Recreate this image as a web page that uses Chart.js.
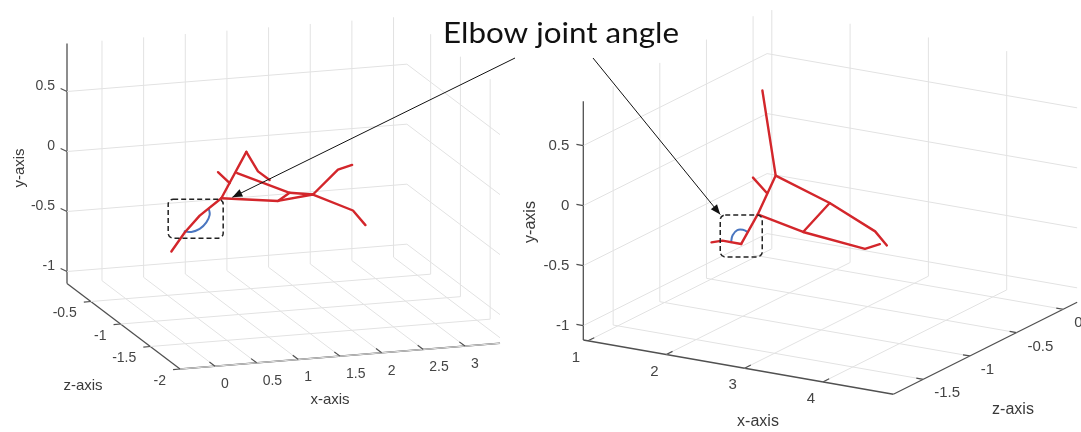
<!DOCTYPE html>
<html><head><meta charset="utf-8">
<script src="https://cdn.jsdelivr.net/npm/chart.js@4"></script>
<style>html,body{margin:0;padding:0;background:#fff;}#wrap{width:1081px;height:432px;}</style>
</head><body><div id="wrap"><canvas id="c" width="1081" height="432"></canvas></div>
<script>
// ---------- data ----------
const titleText = 'Elbow joint angle';
const axisTitles = ['x-axis', 'y-axis', 'z-axis'];

const leftXLim = [-0.42, 3.66];
const leftYLim = [-1.1, 0.9];
const leftZLim = [-2, -0.1];
const leftXTicks = [0, 0.5, 1, 1.5, 2, 2.5, 3, 3.5];
const leftYTicks = [-1, -0.5, 0, 0.5];
const leftZTicks = [-2, -1.5, -1, -0.5];

const rightXLim = [0.94, 4.9];
const rightYLim = [-1.12, 0.87];
const rightZLim = [-1.82, 0.15];
const rightXTicks = [1, 2, 3, 4];
const rightYTicks = [-1, -0.5, 0, 0.5];
const rightZTicks = [-1.5, -1, -0.5, 0];

// skeleton limbs [x, y, z]
const leftArm = [[0.19,-0.53,-1],[0.35,-0.38,-1],[0.53,-0.25,-1],[0.79,-0.12,-1]];
const leftNeck = [[0.79,-0.12,-1],[1.09,0.25,-1]];
const leftHead = [[1.09,0.25,-1],[1.23,0.08,-1],[1.37,0.00,-1]];
const leftBack = [[0.98,0.08,-1],[1.61,-0.12,-1],[1.89,-0.15,-1]];
const leftSpine = [[0.79,-0.12,-1],[1.47,-0.18,-1],[1.89,-0.15,-1]];
const leftRung = [[1.47,-0.18,-1],[1.61,-0.12,-1]];
const leftLegUp = [[1.89,-0.15,-1],[2.19,0.04,-1],[2.36,0.07,-1]];
const leftLegDown = [[1.89,-0.15,-1],[2.37,-0.31,-1],[2.52,-0.44,-1]];
const leftHand = [[0.75,0.10,-1],[0.89,0.00,-1]];
const leftAngleArc = [[0.35,-0.37,-1],[0.43,-0.38,-1],[0.53,-0.36,-1],[0.61,-0.31,-1],[0.65,-0.25,-1],[0.64,-0.20,-1]];

const rightSpine = [[2.25,0.79,-1],[2.42,0.10,-1],[2.19,-0.25,-1],[1.98,-0.52,-1]];
const rightForearm = [[1.98,-0.52,-1],[1.74,-0.52,-1],[1.60,-0.55,-1]];
const rightUpper = [[2.42,0.10,-1],[3.11,-0.05,-1],[3.69,-0.22,-1],[3.84,-0.32,-1]];
const rightLower = [[2.19,-0.25,-1],[2.77,-0.33,-1],[3.56,-0.38,-1],[3.75,-0.32,-1]];
const rightRung = [[3.11,-0.05,-1],[2.77,-0.33,-1]];
const rightHand = [[2.13,0.05,-1],[2.31,-0.06,-1]];
const rightAngleArc = [[1.85,-0.52,-1],[1.87,-0.46,-1],[1.93,-0.41,-1],[2.01,-0.40,-1],[2.06,-0.41,-1]];

// ---------- views (layout) ----------
const leftView = {xl:leftXLim, yl:leftYLim, zl:leftZLim, zRef:leftZLim[1],
  origin:[67,283.5], ex:[83.3,-6.7], ey:[0,-120], ez:[-59.5,-45], clipRight:500};
const rightView = {xl:rightXLim, yl:rightYLim, zl:rightZLim, zRef:rightZLim[0],
  origin:[583.3,340], ex:[78.3,13.7], ey:[0,-120], ez:[93.3,-46.7], clipRight:1081};

function P(v, p) {
  const dx = p[0]-v.xl[0], dy = p[1]-v.yl[0], dz = p[2]-v.zRef;
  return [v.origin[0]+dx*v.ex[0]+dy*v.ey[0]+dz*v.ez[0],
          v.origin[1]+dx*v.ex[1]+dy*v.ey[1]+dz*v.ez[1]];
}

const datasets = [];
const GRID = '#e2e2e2', AXIS = '#505050', RED = '#d3262b', BLUE = '#4a76c0';

function clipSeg(a, b, xr) {
  if (a[0] > xr && b[0] > xr) return null;
  if (a[0] <= xr && b[0] <= xr) return [a, b];
  const t = (xr - a[0]) / (b[0] - a[0]);
  const c = [xr, a[1] + t*(b[1]-a[1])];
  return a[0] <= xr ? [a, c] : [c, b];
}
function addSeg(v, p, q, color, width) {
  const s = clipSeg(P(v,p), P(v,q), v.clipRight);
  if (!s) return;
  datasets.push({data: s.map(e=>({x:e[0], y:e[1]})), showLine:true, pointRadius:0,
    borderColor:color, borderWidth:width, fill:false, order:5});
}
function addPoly(v, pts, color, width, tension) {
  datasets.push({data: pts.map(p=>{const e=P(v,p); return {x:e[0], y:e[1]};}),
    showLine:true, pointRadius:0, borderColor:color, borderWidth:width, fill:false,
    tension:tension||0, borderJoinStyle:'round', borderCapStyle:'round', order:1});
}
function addTick(v, p, dir, len) {
  const a = P(v,p);
  if (a[0] > v.clipRight) return;
  const n = Math.hypot(dir[0],dir[1]);
  datasets.push({data:[{x:a[0],y:a[1]},{x:a[0]+dir[0]/n*len,y:a[1]+dir[1]/n*len}], showLine:true,
    pointRadius:0, borderColor:AXIS, borderWidth:1.2, fill:false, order:3});
}

// ----- left panel grid: back wall z=zmax, right wall x=xmax, floor y=ymin -----
(function(){
  const v = leftView, [x0,x1]=leftXLim, [y0,y1]=leftYLim, [z0,z1]=leftZLim;
  leftXTicks.forEach(x=>{ addSeg(v,[x,y0,z1],[x,y1,z1],GRID,1); addSeg(v,[x,y0,z1],[x,y0,z0],GRID,1); });
  leftYTicks.forEach(y=>{ addSeg(v,[x0,y,z1],[x1,y,z1],GRID,1); addSeg(v,[x1,y,z1],[x1,y,z0],GRID,1); });
  leftZTicks.forEach(z=>{ addSeg(v,[x1,y0,z],[x1,y1,z],GRID,1); addSeg(v,[x0,y0,z],[x1,y0,z],GRID,1); });
  addSeg(v,[x0,y0,z1],[x0,y1,z1],AXIS,1.3);
  addSeg(v,[x0,y0,z1],[x0,y0,z0],AXIS,1.3);
  addSeg(v,[x0,y0,z0],[x1,y0,z0],AXIS,1.3);
  leftYTicks.forEach(y=>addTick(v,[x0,y,z1],[-7.4,-3.4],7));
  leftXTicks.forEach(x=>addTick(v,[x,y0,z0],[-0.8,-0.6],7));
  leftZTicks.forEach(z=>addTick(v,[x0,y0,z],[-1,0.1],7));
})();
// ----- right panel grid: left wall x=xmin, back wall z=zmax, floor y=ymin -----
(function(){
  const v = rightView, [x0,x1]=rightXLim, [y0,y1]=rightYLim, [z0,z1]=rightZLim;
  rightXTicks.forEach(x=>{ addSeg(v,[x,y0,z1],[x,y1,z1],GRID,1); addSeg(v,[x,y0,z0],[x,y0,z1],GRID,1); });
  rightYTicks.forEach(y=>{ addSeg(v,[x0,y,z0],[x0,y,z1],GRID,1); addSeg(v,[x0,y,z1],[x1,y,z1],GRID,1); });
  rightZTicks.forEach(z=>{ addSeg(v,[x0,y0,z],[x0,y1,z],GRID,1); addSeg(v,[x0,y0,z],[x1,y0,z],GRID,1); });
  addSeg(v,[x0,y0,z0],[x0,y1,z0],AXIS,1.3);
  addSeg(v,[x0,y0,z0],[x1,y0,z0],AXIS,1.3);
  addSeg(v,[x1,y0,z0],[x1,y0,z1],AXIS,1.3);
  rightYTicks.forEach(y=>addTick(v,[x0,y,z0],[-1,-0.18],7));
  rightXTicks.forEach(x=>addTick(v,[x,y0,z0],[0.89,-0.45],7));
  rightZTicks.forEach(z=>addTick(v,[x1,y0,z],[-1,-0.17],7));
})();

// ----- skeletons -----
[leftArm,leftNeck,leftHead,leftBack,leftSpine,leftRung,leftLegUp,leftLegDown,leftHand]
  .forEach(l=>addPoly(leftView,l,RED,2.4));
addPoly(leftView,leftAngleArc,BLUE,2,0.4);
[rightSpine,rightForearm,rightUpper,rightLower,rightRung,rightHand]
  .forEach(l=>addPoly(rightView,l,RED,2.4));
addPoly(rightView,rightAngleArc,BLUE,2,0.4);

// ---------- annotation / text plugin ----------
function fmt(t){ return String(t); }
const textPlugin = {
  id:'texts',
  afterDatasetsDraw(chart){
    const ctx = chart.ctx;
    ctx.save();
    // tick labels left
    let v = leftView;
    ctx.fillStyle = '#444';
    ctx.font = '14px "Liberation Sans", Arial, sans-serif';
    ctx.textBaseline = 'middle';
    ctx.textAlign = 'right';
    leftYTicks.forEach(y=>{ const a=P(v,[leftXLim[0],y,leftZLim[1]]); ctx.fillText(fmt(y),a[0]-12,a[1]-5); });
    leftZTicks.forEach(z=>{ const a=P(v,[leftXLim[0],leftYLim[0],z]); ctx.fillText(fmt(z),a[0]-14,a[1]+12); });
    ctx.textAlign = 'left';
    leftXTicks.forEach(x=>{ const a=P(v,[x,leftYLim[0],leftZLim[0]]); if(a[0]+6<488) ctx.fillText(fmt(x),a[0]+6,a[1]+18); });
    // tick labels right
    v = rightView;
    ctx.font = '15px "Liberation Sans", Arial, sans-serif';
    ctx.textAlign = 'right';
    rightYTicks.forEach(y=>{ const a=P(v,[rightXLim[0],y,rightZLim[0]]); ctx.fillText(fmt(y),a[0]-14,a[1]); });
    ctx.textAlign = 'center';
    rightXTicks.forEach(x=>{ const a=P(v,[x,rightYLim[0],rightZLim[0]]); ctx.fillText(fmt(x),a[0]-12,a[1]+17); });
    ctx.textAlign = 'left';
    rightZTicks.forEach(z=>{ const a=P(v,[rightXLim[1],rightYLim[0],z]); ctx.fillText(fmt(z),a[0]+11,a[1]+14); });
    // axis titles
    ctx.fillStyle = '#3a3a3a';
    ctx.textAlign = 'center';
    ctx.font = '15px "Liberation Sans", Arial, sans-serif';
    ctx.fillText(axisTitles[0], 330, 400);
    ctx.fillText(axisTitles[2], 83, 386);
    ctx.save(); ctx.translate(20,168); ctx.rotate(-Math.PI/2); ctx.fillText(axisTitles[1],0,0); ctx.restore();
    ctx.font = '16px "Liberation Sans", Arial, sans-serif';
    ctx.fillText(axisTitles[0], 758, 422);
    ctx.fillText(axisTitles[2], 1013, 410);
    ctx.save(); ctx.translate(531,222); ctx.rotate(-Math.PI/2); ctx.fillText(axisTitles[1],0,0); ctx.restore();

    // dashed boxes
    function dbox(cx,cy,w,h){
      ctx.save(); ctx.strokeStyle='#222'; ctx.lineWidth=1.5; ctx.setLineDash([5,3]);
      ctx.beginPath(); ctx.roundRect(cx-w/2,cy-h/2,w,h,5); ctx.stroke(); ctx.restore();
    }
    const le = P(leftView,leftArm[2]);
    dbox(le[0]-4, le[1]+3, 55, 39);
    const re = P(rightView,rightSpine[3]);
    dbox(re[0], re[1]-8, 42, 42);

    // title
    ctx.save();
    ctx.fillStyle = '#111';
    ctx.textAlign = 'left'; ctx.textBaseline = 'alphabetic';
    ctx.font = '28px Lato, "Open Sans", sans-serif';
    const w = ctx.measureText(titleText).width;
    ctx.translate(443,43); ctx.scale(236/w,1); ctx.fillText(titleText,0,0);
    ctx.restore();

    // arrows
    function arrow(x0,y0,x1,y1){
      ctx.save(); ctx.strokeStyle='#111'; ctx.fillStyle='#111'; ctx.lineWidth=1;
      ctx.beginPath(); ctx.moveTo(x0,y0); ctx.lineTo(x1,y1); ctx.stroke();
      const ang = Math.atan2(y1-y0,x1-x0), L=10, H=4;
      ctx.beginPath(); ctx.moveTo(x1,y1);
      ctx.lineTo(x1-L*Math.cos(ang)+H*Math.sin(ang), y1-L*Math.sin(ang)-H*Math.cos(ang));
      ctx.lineTo(x1-L*Math.cos(ang)-H*Math.sin(ang), y1-L*Math.sin(ang)+H*Math.cos(ang));
      ctx.closePath(); ctx.fill(); ctx.restore();
    }
    const sh = P(leftView,leftArm[3]);
    arrow(443+72, 58, sh[0]+11, sh[1]-1);
    arrow(443+150, 58, re[0]-21, re[1]-29.5);
    ctx.restore();
  }
};

new Chart(document.getElementById('c'), {
  type:'scatter',
  data:{datasets},
  options:{
    responsive:false, animation:false,
    layout:{padding:0},
    plugins:{legend:{display:false}, tooltip:{enabled:false}},
    scales:{
      x:{type:'linear', min:0, max:1081, display:false},
      y:{type:'linear', min:0, max:432, reverse:true, display:false}
    }
  },
  plugins:[textPlugin]
});
</script></body></html>
